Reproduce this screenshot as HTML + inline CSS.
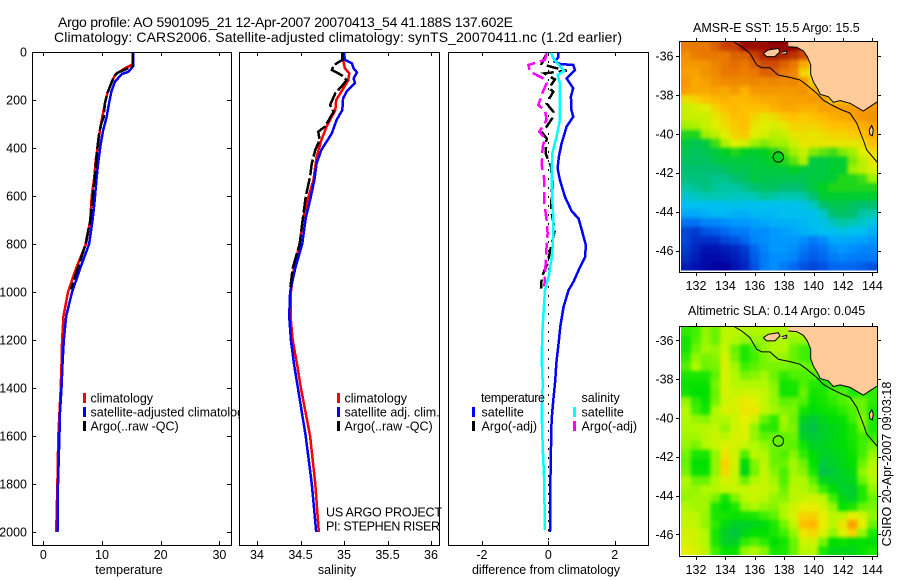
<!DOCTYPE html>
<html>
<head>
<meta charset="utf-8">
<title>Argo profile</title>
<style>
html,body{margin:0;padding:0;background:#fff;}
svg{display:block;}
text{font-family:"Liberation Sans",sans-serif;font-size:12.5px;fill:#000;}
</style>
</head>
<body>
<svg id="fig" xmlns="http://www.w3.org/2000/svg" width="900" height="580" viewBox="0 0 900 580">
<defs>
<filter id="soft" x="-5%" y="-5%" width="110%" height="110%" color-interpolation-filters="sRGB">
<feGaussianBlur stdDeviation="1.8"/>
<feComponentTransfer><feFuncA type="linear" slope="100"/></feComponentTransfer>
</filter>
<clipPath id="clipSst"><rect x="681" y="42" width="196" height="228.5"/></clipPath>
<clipPath id="clipSla"><rect x="681" y="327" width="196" height="228"/></clipPath>
</defs>
<text x="58" y="27" style="font-size:14px" textLength="455">Argo profile: AO 5901095_21 12-Apr-2007 20070413_54 41.188S 137.602E</text>
<text x="54" y="42" style="font-size:14px" textLength="568">Climatology: CARS2006. Satellite-adjusted climatology: synTS_20070411.nc (1.2d earlier)</text>
<g id="root"></g>
</svg>
<script>
/* ---------- profile data ---------- */
const depthTicks = [0,200,400,600,800,1000,1200,1400,1600,1800,2000];
const tempTicks = [0,10,20,30];
const salTicks = [34,34.5,35,35.5,36];
const salTickLabels = ['34','34.5','35','35.5','36'];
const diffTicks = [-2,0,2];

const tempClimDepth = [0,52,68,96,130,172,214,270,325,381,450,519,600,700,800,900,1000,1100,1200,1300,1400,1600,1800,2000];
const tempClimValue = [15.2,15.2,13.9,12.2,11.6,10.9,10.5,10.05,9.65,9.37,8.93,8.7,8.25,8.0,7.27,5.6,4.2,3.44,3.2,3.1,2.96,2.55,2.4,2.2];
const tempSatDepth = [0,60,82,92,124,165,214,270,325,381,450,519,617,700,800,900,1000,1100,1200,1300,1400,1500,1600,1800,2000];
const tempSatValue = [15.3,15.3,14.5,13.35,12.2,11.6,11.2,10.8,10.2,9.8,9.4,9.1,8.75,8.4,7.8,6.3,4.9,3.9,3.5,3.27,3.1,2.85,2.75,2.5,2.42];
const tempArgoDepth = [0,60,88,110,172,214,270,297,340,410,510,600,700,800,900,990];
const tempArgoValue = [15.2,15.2,12.5,11.9,10.9,10.5,10.3,9.9,9.5,9.15,8.8,8.45,8.0,7.2,5.9,4.7];

const salClimDepth = [3,33,68,89,117,165,200,242,311,367,436,533,617,693,800,900,1000,1100,1200,1300,1400,1600,1800,2000];
const salClimValue = [34.98,34.99,35.01,35.06,35.05,34.97,34.91,34.90,34.80,34.74,34.685,34.65,34.58,34.53,34.49,34.425,34.39,34.385,34.41,34.46,34.505,34.61,34.67,34.71];
const salSatDepth = [3,33,47,68,85,110,130,165,193,242,283,339,408,464,533,617,693,800,900,1000,1100,1200,1300,1400,1600,1800,2000];
const salSatValue = [35.0,35.01,35.09,35.11,35.15,35.11,35.127,35.03,34.99,34.98,34.915,34.86,34.74,34.685,34.66,34.61,34.56,34.52,34.44,34.38,34.37,34.39,34.425,34.47,34.56,34.63,34.68];
const salArgoDepth = [3,33,54,75,96,117,144,172,221,249,311,332,367,408,464,519,603,686,800,900,990];
const salArgoValue = [34.98,34.98,34.885,34.86,34.97,35.03,34.97,34.90,34.84,34.88,34.78,34.705,34.72,34.67,34.63,34.61,34.56,34.53,34.49,34.41,34.38];

const diffTempSatDepth = [3,22,40,50,54,75,110,151,186,242,269,311,381,436,485,533,603,665,693,742,804,853,901,957,992,1061,1144,1214,1297,1367,1450,1533,1644,1811,1999];
const diffTempSatValue = [0.30,0.30,0.19,0.36,0.75,0.80,0.55,0.75,0.68,0.70,0.75,0.55,0.40,0.32,0.28,0.35,0.50,0.71,0.91,1.01,1.13,1.11,0.94,0.76,0.61,0.46,0.36,0.31,0.24,0.21,0.15,0.10,0.08,0.06,0.05];
const diffSalSatDepth = [3,26,44,78,96,130,200,283,353,422,506,617,697,742,839,929,992,1075,1172,1283,1380,1506,1644,1769,1992];
const diffSalSatValue = [0.08,0.15,0.25,0.48,0.28,0.35,0.35,0.35,0.25,0.12,0.10,0.12,0.15,0.15,0.12,0.02,-0.10,-0.14,-0.18,-0.20,-0.17,-0.20,-0.17,-0.13,-0.10];
const diffTempArgoDepth = [6,50,64,78,89,114,151,165,214,249,276,311,336,360,422,478,547,658,742,811,880,922,943,985];
const diffTempArgoValue = [-0.05,-0.20,0.15,0.56,-0.12,0.20,0.02,0.15,-0.05,0.15,0.12,-0.05,-0.18,-0.05,-0.08,0.08,0.12,0.08,0.20,0.08,-0.02,-0.15,-0.20,-0.22];
const diffSalArgoDepth = [6,33,54,82,110,130,172,221,244,283,332,360,394,471,533,603,631,700,756,811,880,936,978];
const diffSalArgoValue = [-0.05,-0.10,-0.60,-0.55,-0.15,-0.05,-0.18,-0.30,-0.10,-0.05,-0.27,-0.10,-0.17,-0.20,-0.12,-0.12,-0.12,-0.05,-0.02,-0.05,-0.08,-0.10,-0.12];
const zeroLineDepth = [0,2055];
const zeroLineValue = [0,0];

/* ---------- map data ---------- */
const lonTicks = [132,134,136,138,140,142,144];
const latTicks = [-36,-38,-40,-42,-44,-46];
const argoLon = 137.6;
const argoLat = -41.19;
const argoSst = 15.5;
const argoSla = 0.045;

const sstLevels = [12,12.5,13,13.5,14,14.5,15,15.5,16,16.5,17,17.5,18,18.5,19];
const sstColors = ['#0000a0','#0030c8','#0068f0','#0098ff','#00c0f0','#00c8b0','#00c070','#00d020','#a0f000','#e0f000','#ffc000','#f59800','#e87800','#c84000','#900000'];
const slaLevels = [-0.15,-0.05,0.02,0.1,0.2,0.3,0.4];
const slaColors = ['#00c050','#00e000','#40f000','#b0f800','#e8f000','#ffc000','#ff9800'];

const sstGrid = [
[17.9,18,18,18.2,18.5,18.5,18.9,18.9,18.9,19,19,19,18.6,18,18,18,18,18,18,18],
[17.6,17.9,18,18,18,18.2,18.2,18.5,18.7,18.8,18.7,18.6,18.4,18.1,18,18,18,18,18,18],
[17.5,17.5,17.6,17.8,18,18.1,18,18.2,18.4,18.4,18.2,18,17.3,17,17,17,17,17,17,17],
[17.4,17.4,17.6,17.7,18,18,17.9,18,18.2,18.2,18,17.8,16.8,16.6,16.6,16.6,16.6,16.6,16.6,16.6],
[17.5,17.3,17.4,17.6,17.7,17.7,17.7,17.8,17.7,17.8,17.7,17.8,17.5,16.8,16.5,16.5,16.5,16.5,16.5,16.5],
[17.4,17.3,17.3,17.4,17.3,17.5,17.2,17.5,17.5,17.5,17.5,17.5,17.6,17.3,16.6,16.6,16.6,16.6,16.6,16.6],
[16.7,16.8,17,17.1,17.2,17.1,17.1,17.2,17.3,17.3,17.4,17.4,17.4,17.5,17.4,16.8,17,17,17.3,17.5],
[16.3,16.4,16.5,16.8,17,17.1,17,17,17,17.2,17.3,17.3,17.2,17.2,17.4,17.4,17.4,17.4,17.5,17.5],
[16.3,16.3,16.3,16.6,16.8,17,17,16.8,16.6,16.7,16.9,17,16.9,17,17.1,17.2,17.3,17.4,17.5,17.6],
[16,16.1,16.3,16.5,16.7,16.9,17,16.6,16.5,16.4,16.6,16.8,16.8,16.8,16.9,17,17,17.1,17.2,17.4],
[15.6,15.6,16,16.2,16.5,16.8,16.9,16.5,16.4,16.2,16.3,16.6,16.7,16.6,16.7,16.8,16.8,16.9,17,17.2],
[15.3,15.2,15.3,15.7,16.1,16.5,16.4,16,15.9,16,16,16.3,16.6,16.6,16.6,16.6,16.6,16.6,16.7,17],
[15.2,15.1,15.2,15.3,15.5,15.6,15.5,15.4,15.5,15.6,15.8,16,16.3,15.9,15.8,15.7,15.9,16,16.5,16.7],
[15.1,15.1,15.1,15.2,15.3,15.3,15.3,15.3,15.4,15.5,15.6,15.8,16.1,15.3,15.3,15.4,15.4,15.9,16.2,16.6],
[15,15,15,15,15.1,15.2,15.2,15.3,15.3,15.3,15.3,15.5,15.3,15.3,15.3,15.4,15.4,16,16.2,16.4],
[14.9,14.9,14.9,14.8,14.8,15,15.1,15.3,15.2,15.2,15.2,15.2,15.2,15.3,15.3,15.4,15.6,15.6,15.7,16],
[14.6,14.7,14.9,14.7,14.6,14.6,14.8,15,15.1,15.1,15,15,15.1,15.3,15.5,15.6,15.6,15.6,15.6,15.6],
[14.3,14.4,14.5,14.5,14.5,14.4,14.4,14.5,14.7,14.6,14.5,14.5,14.6,15,15.4,15.4,15.4,15.4,15.4,15.4],
[14,14,14,14,14,14.1,14,14,14,14,14,14,14.1,14.4,15,15.2,15.2,15.1,15,15],
[13.7,13.7,13.8,13.9,13.9,13.8,13.8,13.9,13.9,13.9,14,14,14,14,14.3,15,15.1,15,14.6,14.5],
[13.1,13.1,13.3,13.3,13.4,13.5,13.5,13.6,13.7,13.8,13.8,13.8,13.9,14,14.1,14.4,14.6,14.5,14.3,14.1],
[12.7,12.6,12.8,12.9,13,13.2,13.2,13.4,13.4,13.5,13.6,13.7,13.8,13.9,14,14,14.1,14,14,13.8],
[12.7,12.5,12.5,12.5,12.7,12.8,13,13.3,13.4,13.5,13.5,13.5,13.4,13.2,13.4,13.7,13.7,13.7,13.6,13.5],
[12.6,12.4,12.2,12.2,12.3,12.4,12.6,13,13.3,13.5,13.5,13.4,13.2,13,13.1,13.4,13.5,13.4,13.3,13.3],
[12.5,12.3,12.1,12.1,12.2,12.3,12.5,12.9,13.2,13.4,13.4,13.3,13,12.9,13,13.2,13.3,13.2,13.2,13.2],
[12.3,12.2,12.1,12,12,12.2,12.4,12.8,13.2,13.4,13.2,13,12.8,12.7,12.8,13,13,13,12.9,12.8]
];
const slaGrid = [
[0,.02,.08,.05,.12,.12,.1,.1,.1,.1,.1,.1,.1,.1,.1,.1,.1,.1,.1,.1],
[-.03,.03,.08,.05,.12,.1,.08,.08,.08,.1,.1,.08,.08,.1,.1,.1,.1,.1,.1,.1],
[-.03,.05,.09,.08,.13,.05,-.02,.03,.08,.1,.1,.05,.02,0,0,0,0,0,0,0],
[0,.08,.06,.07,.16,.06,-.02,.02,.06,.08,.08,.05,.02,0,0,0,0,0,0,0],
[.03,.1,.05,.06,.17,.09,.02,.04,.06,.06,.06,.05,.05,.05,.05,.05,.05,.05,.05,.05],
[-.02,-.02,-.02,.04,.17,.1,.06,.07,.09,.05,0,.03,.03,.03,.03,.03,.03,.03,.03,.03],
[-.04,-.04,-.04,.06,.16,.11,.1,.1,.1,.07,-.03,-.02,.03,-.01,-.02,0,0,0,0,0],
[-.03,-.05,-.05,.05,.17,.14,.15,.15,.13,.08,-.03,-.03,.05,-.03,-.02,.02,.03,-.02,0,0],
[.08,0,-.04,.06,.15,.17,.21,.19,.13,.08,.04,.05,.03,-.04,-.03,0,.03,.05,.05,0],
[.12,.02,-.03,.1,.17,.16,.22,.22,.13,.09,.07,.06,-.03,-.06,-.04,-.03,0,.03,.05,-.02],
[.1,.08,.07,.1,.1,.15,.2,.15,.05,0,.09,.05,-.09,-.12,-.08,-.06,-.04,.02,.07,-.02],
[.1,.1,.11,.13,.08,.15,.18,.08,0,-.01,.08,.06,-.12,-.14,-.1,-.08,-.06,-.02,.06,-.02],
[.09,.09,.11,.14,.12,.17,.18,.08,.04,.05,.04,.05,-.1,-.12,-.1,-.08,-.06,-.02,.02,0],
[.08,.06,.1,.14,.18,.16,.14,.1,.08,.05,.05,.04,-.03,-.1,-.09,-.07,-.06,-.03,.02,.05],
[.06,-.02,-.02,.08,.22,.15,.03,.12,.1,.05,.03,.07,0,-.06,-.1,-.09,-.07,-.04,.02,.08],
[.05,-.05,-.05,.08,.26,.16,-.06,.07,.12,.05,.05,.09,.05,-.05,-.12,-.1,-.08,-.05,.05,.1],
[.06,-.04,-.04,.08,.25,.15,-.08,.06,.13,.07,.03,.09,.07,-.02,-.14,-.12,-.09,-.07,.08,.12],
[.1,.05,.05,.1,.17,.14,.05,.1,.13,.09,.03,.1,.1,.04,-.08,-.1,-.1,-.08,.05,.1],
[.09,.08,.1,.1,.13,.14,.14,.15,.14,.1,.05,.12,.1,.08,.01,-.06,-.1,-.11,-.02,.08],
[.08,.09,.09,.06,-.03,.06,.12,.14,.12,.08,.07,.12,.14,.15,.12,.02,-.08,-.1,-.02,.05],
[.1,.09,.09,-.02,-.05,-.02,.08,.1,.08,.07,.1,.15,.2,.2,.16,.08,-.05,-.02,.05,.06],
[.13,.12,.08,-.02,-.03,-.04,-.03,-.02,.02,.04,.1,.17,.26,.26,.2,.12,.12,.2,.15,.08],
[.14,.13,.08,0,-.07,-.1,-.1,-.08,-.07,-.02,.06,.14,.3,.32,.2,.12,.22,.38,.2,.05],
[.16,.16,.1,-.03,-.1,-.13,-.08,-.05,-.05,-.02,.02,.08,.22,.25,.17,.08,.18,.26,.08,-.02],
[.17,.15,.1,-.02,-.1,-.1,0,.03,0,-.06,-.03,.05,.15,.15,.06,-.05,-.04,-.06,-.05,-.06],
[.2,.17,.12,.02,-.04,-.04,.08,.1,.07,-.03,-.02,.05,.12,.12,-.02,-.08,-.08,-.08,-.04,-.02]
];
const landLon = [138.28,138.85,139.30,139.57,139.80,139.80,139.98,140.32,140.44,141.0,141.34,141.80,142.48,143.38,143.84,144.34,144.34,138.28];
const landLat = [-35.52,-35.55,-35.74,-36.03,-36.46,-36.94,-37.32,-37.75,-37.97,-38.09,-38.38,-38.30,-38.43,-38.83,-38.60,-38.35,-35.28,-35.28];
const kangarooLon = [136.58,136.92,137.60,137.71,137.37,136.81,136.58];
const kangarooLat = [-35.86,-35.69,-35.61,-35.78,-36.03,-36.03,-35.86];
const yorkeLon = [137.83,138.17,138.17,137.90];
const yorkeLat = [-35.81,-35.74,-35.88,-35.91];
const kingLon = [143.79,143.95,144.06,143.99,143.83,143.79];
const kingLat = [-39.80,-39.58,-39.80,-40.10,-40.03,-39.80];
const shelfLon = [134.61,135.11,135.67,136.13,136.47,137.03,137.60,138.39,139.07,139.53,140.21,140.66,141.23,141.91,142.48,142.93,143.38,143.61,144.34];
const shelfLat = [-35.30,-35.52,-35.86,-36.46,-36.60,-36.60,-36.98,-37.10,-37.23,-37.49,-37.92,-38.27,-38.52,-38.77,-38.94,-39.45,-40.32,-40.83,-41.47];

/* ---------- helpers ---------- */
const NS = 'http://www.w3.org/2000/svg';
const root = document.getElementById('root');
function make(tag, attrs, parent) {
  const el = document.createElementNS(NS, tag);
  for (const k in attrs) el.setAttribute(k, attrs[k]);
  (parent || root).appendChild(el);
  return el;
}
function hline(x1, y1, x2, y2, name, parent) {
  const el = make('line', {x1:x1, y1:y1, x2:x2, y2:y2, stroke:'#000', 'stroke-width':1, 'shape-rendering':'crispEdges'}, parent);
  
  
  return el;
}
function label(x, y, str, anchor, name, parent) {
  const el = make('text', {x:x, y:y, 'text-anchor':anchor}, parent);
  el.textContent = str;
  
  
  return el;
}

/* ---------- profile axes ---------- */
const yTop = 52, yPerDepth = 0.24, panelBottom = 545;
const depthY = d => yTop + d * yPerDepth;
const tempX = v => 43.3 + v * 5.87;
const salX = v => 257 + (v - 34) * 87;
const diffX = v => 548.3 + v * 33.2;

function panelFrame(left, right, name) {
  const r = make('rect', {x:left+.5, y:yTop+.5, width:right-left, height:panelBottom-yTop, fill:'#fff', stroke:'#000', 'stroke-width':1, 'shape-rendering':'crispEdges'});
  
  
}
function xTicks(values, labels, xf, axisName) {
  values.forEach((v, i) => {
    const x = Math.round(xf(v)) + .5;
    hline(x, yTop, x, yTop + 4, axisName + '-top-tick');
    hline(x, panelBottom, x, panelBottom - 4, axisName + '-bottom-tick');
    label(xf(v), 559, labels[i], 'middle', axisName + '-tick-label');
  });
}
function series(depths, values, xf, color, width, dash, name) {
  const pts = depths.map((d, i) => xf(values[i]).toFixed(1) + ',' + depthY(d).toFixed(1)).join(' ');
  const el = make('polyline', {points:pts, fill:'none', stroke:color, 'stroke-width':width, 'stroke-linejoin':'miter', 'shape-rendering':'crispEdges'});
  if (dash) el.setAttribute('stroke-dasharray', dash);
  
  
}
function legendRow(x, y, color, str, offset, name) {
  const s = make('rect', {x:x, y:y, width:3, height:10, fill:color});
  
  
  if (str) label(x + offset, y + 9.5, str, 'start', name);
}

/* temperature panel */
panelFrame(32, 231, 'temperature-panel');
depthTicks.forEach(d => {
  const y = Math.round(depthY(d)) + .5;
  if (d > 0) {
    hline(32, y, 36, y, 'depth-left-tick');
    hline(231, y, 227, y, 'depth-right-tick');
  }
  label(27, depthY(d) + 4.5, String(d), 'end', 'depth-tick-label');
});
xTicks(tempTicks, tempTicks.map(String), tempX, 'temperature-axis');
series(tempClimDepth, tempClimValue, tempX, '#ff0000', 2.5, null, 'temperature-climatology-line');
series(tempSatDepth, tempSatValue, tempX, '#0000ff', 2.5, null, 'temperature-satellite-line');
series(tempArgoDepth, tempArgoValue, tempX, '#000', 2.5, '16,3', 'temperature-argo-line');
label(129, 574, 'temperature', 'middle', 'temperature-axis-title');
legendRow(83, 393, '#ff0000', 'climatology', 7.5, 'temperature-legend-climatology');
legendRow(83, 407, '#0000ff', 'satellite-adjusted climatology', 7.5, 'temperature-legend-satellite');
legendRow(83, 421, '#000', 'Argo(..raw -QC)', 7.5, 'temperature-legend-argo');

/* salinity panel */
panelFrame(239, 439, 'salinity-panel');
xTicks(salTicks, salTickLabels, salX, 'salinity-axis');
series(salClimDepth, salClimValue, salX, '#ff0000', 2.5, null, 'salinity-climatology-line');
series(salSatDepth, salSatValue, salX, '#0000ff', 2.5, null, 'salinity-satellite-line');
series(salArgoDepth, salArgoValue, salX, '#000', 2.5, '16,3', 'salinity-argo-line');
label(337, 574, 'salinity', 'middle', 'salinity-axis-title');
legendRow(337, 393, '#ff0000', 'climatology', 7.5, 'salinity-legend-climatology');
legendRow(337, 407, '#0000ff', 'satellite adj. clim.', 7.5, 'salinity-legend-satellite');
legendRow(337, 421, '#000', 'Argo(..raw -QC)', 7.5, 'salinity-legend-argo');
const projectCredit = label(326, 516.5, 'US ARGO PROJECT', 'start', 'project-credit');
projectCredit.setAttribute('textLength', '116');
const piCredit = label(326, 530.5, 'PI: STEPHEN RISER', 'start', 'pi-credit');
piCredit.setAttribute('textLength', '114');

/* difference panel */
panelFrame(448, 648, 'difference-panel');
xTicks(diffTicks, diffTicks.map(String), diffX, 'difference-axis');
series(zeroLineDepth, zeroLineValue, diffX, '#000', 1, '2,7', 'zero-reference-line');
series(diffTempSatDepth, diffTempSatValue, diffX, '#0000ff', 2.5, null, 'difference-temperature-satellite-line');
series(diffTempArgoDepth, diffTempArgoValue, diffX, '#000', 2.5, '12,5', 'difference-temperature-argo-line');
series(diffSalArgoDepth, diffSalArgoValue, diffX, '#ff00ff', 2.5, '12,5', 'difference-salinity-argo-line');
series(diffSalSatDepth, diffSalSatValue, diffX, '#00ffff', 2.5, null, 'difference-salinity-satellite-line');
const diffTitle = label(472, 574, 'difference from climatology', 'start', 'difference-axis-title');
diffTitle.setAttribute('textLength', '148');
const tempHeading = label(481, 402, 'temperature', 'start', 'difference-legend-temperature-heading');
tempHeading.setAttribute('textLength', '64');
legendRow(472, 407, '#0000ff', 'satellite', 9.5, 'difference-legend-temperature-satellite');
legendRow(472, 421, '#000', 'Argo(-adj)', 9.5, 'difference-legend-temperature-argo');
label(581.5, 402, 'salinity', 'start', 'difference-legend-salinity-heading');
legendRow(573, 407, '#00ffff', 'satellite', 8.5, 'difference-legend-salinity-satellite');
legendRow(573, 421, '#ff00ff', 'Argo(-adj)', 8.5, 'difference-legend-salinity-argo');

/* ---------- maps ---------- */
function hexToRgb(h) {
  return [parseInt(h.substr(1,2),16), parseInt(h.substr(3,2),16), parseInt(h.substr(5,2),16)];
}
function colorFor(v, levels, colors) {
  if (v <= levels[0]) return colors[0];
  for (let i = 1; i < levels.length; i++) {
    if (v <= levels[i]) {
      const t = (v - levels[i-1]) / (levels[i] - levels[i-1]);
      const a = hexToRgb(colors[i-1]), b = hexToRgb(colors[i]);
      return 'rgb(' + a.map((c, k) => Math.round(c + (b[k] - c) * t)).join(',') + ')';
    }
  }
  return colors[colors.length - 1];
}
function drawMap(cfg) {
  const lonX = lon => 696 + (lon - 132) * 14.7;
  const latY = lat => cfg.lat36 + (-36 - lat) * cfg.latScale;
  const ptsOf = (lons, lats) => lons.map((l, i) => lonX(l).toFixed(1) + ',' + latY(lats[i]).toFixed(1)).join(' ');

  const frame = make('rect', {x:679.5, y:cfg.top+.5, width:198, height:cfg.bottom-cfg.top, fill:'#fff', stroke:'#000', 'stroke-width':1, 'shape-rendering':'crispEdges'});
  
  

  const clipG = make('g', {'clip-path':'url(#' + cfg.clip + ')'});
  
  
  const field = make('g', {filter:'url(#soft)'}, clipG);
  
  
  const nRows = cfg.grid.length, nCols = cfg.grid[0].length;
  const cw = 196 / nCols, ch = cfg.mapH / nRows;
  cfg.grid.forEach((row, r) => {
    row.forEach((v, c) => {
      const cell = make('rect', {x:(681 + c * cw).toFixed(2), y:(cfg.mapTop + r * ch).toFixed(2), width:(cw + .6).toFixed(2), height:(ch + .6).toFixed(2), fill:colorFor(v, cfg.levels, cfg.colors)}, field);
      
      
    });
  });
  const land = '#ffcc99';
  [[landLon, landLat, 'mainland'], [kangarooLon, kangarooLat, 'kangaroo-island'], [yorkeLon, yorkeLat, 'yorke-peninsula'], [kingLon, kingLat, 'king-island']].forEach(s => {
    const p = make('polygon', {points:ptsOf(s[0], s[1]), fill:land}, clipG);
    
    
    const line = s[2] === 'mainland' ? ptsOf(s[0].slice(0, 16), s[1].slice(0, 16)) : ptsOf(s[0], s[1]);
    const o = make('polyline', {points:line, fill:'none', stroke:'#000', 'stroke-width':1}, clipG);
    
    
  });
  const shelf = make('polyline', {points:ptsOf(shelfLon, shelfLat), fill:'none', stroke:'#000', 'stroke-width':1}, clipG);
  
  
  const dot = make('circle', {cx:lonX(argoLon), cy:latY(argoLat), r:5.2, fill:colorFor(cfg.argo, cfg.levels, cfg.colors), stroke:'#000', 'stroke-width':1}, clipG);
  
  

  lonTicks.forEach(l => {
    const x = Math.round(lonX(l)) + .5;
    hline(x, cfg.top, x, cfg.top - 3, cfg.name + '-top-tick');
    hline(x, cfg.bottom + 1, x, cfg.bottom + 4, cfg.name + '-bottom-tick');
    label(lonX(l), cfg.bottom + 18, String(l), 'middle', cfg.name + '-longitude-label');
  });
  latTicks.forEach(l => {
    const y = Math.round(latY(l)) + .5;
    hline(679, y, 676, y, cfg.name + '-left-tick');
    hline(878, y, 881, y, cfg.name + '-right-tick');
    label(673.5, latY(l) + 4.5, String(l), 'end', cfg.name + '-latitude-label');
  });
  label(cfg.titleX, cfg.titleY, cfg.title, 'start', cfg.name + '-title');
}
drawMap({name:'sst-map', grid:sstGrid, levels:sstLevels, colors:sstColors, argo:argoSst, clip:'clipSst',
  top:41, bottom:272, mapTop:42, mapH:229, lat36:56, latScale:19.45,
  title:'AMSR-E SST: 15.5 Argo: 15.5', titleX:693, titleY:32});
drawMap({name:'sla-map', grid:slaGrid, levels:slaLevels, colors:slaColors, argo:argoSla, clip:'clipSla',
  top:326, bottom:556, mapTop:327, mapH:228, lat36:340.3, latScale:19.4,
  title:'Altimetric SLA: 0.14 Argo: 0.045', titleX:688, titleY:315});

const stamp = label(0, 0, 'CSIRO 20-Apr-2007 09:03:18', 'middle', 'timestamp-label');
stamp.setAttribute('transform', 'translate(891,464) rotate(-90)');
</script>
</body>
</html>
